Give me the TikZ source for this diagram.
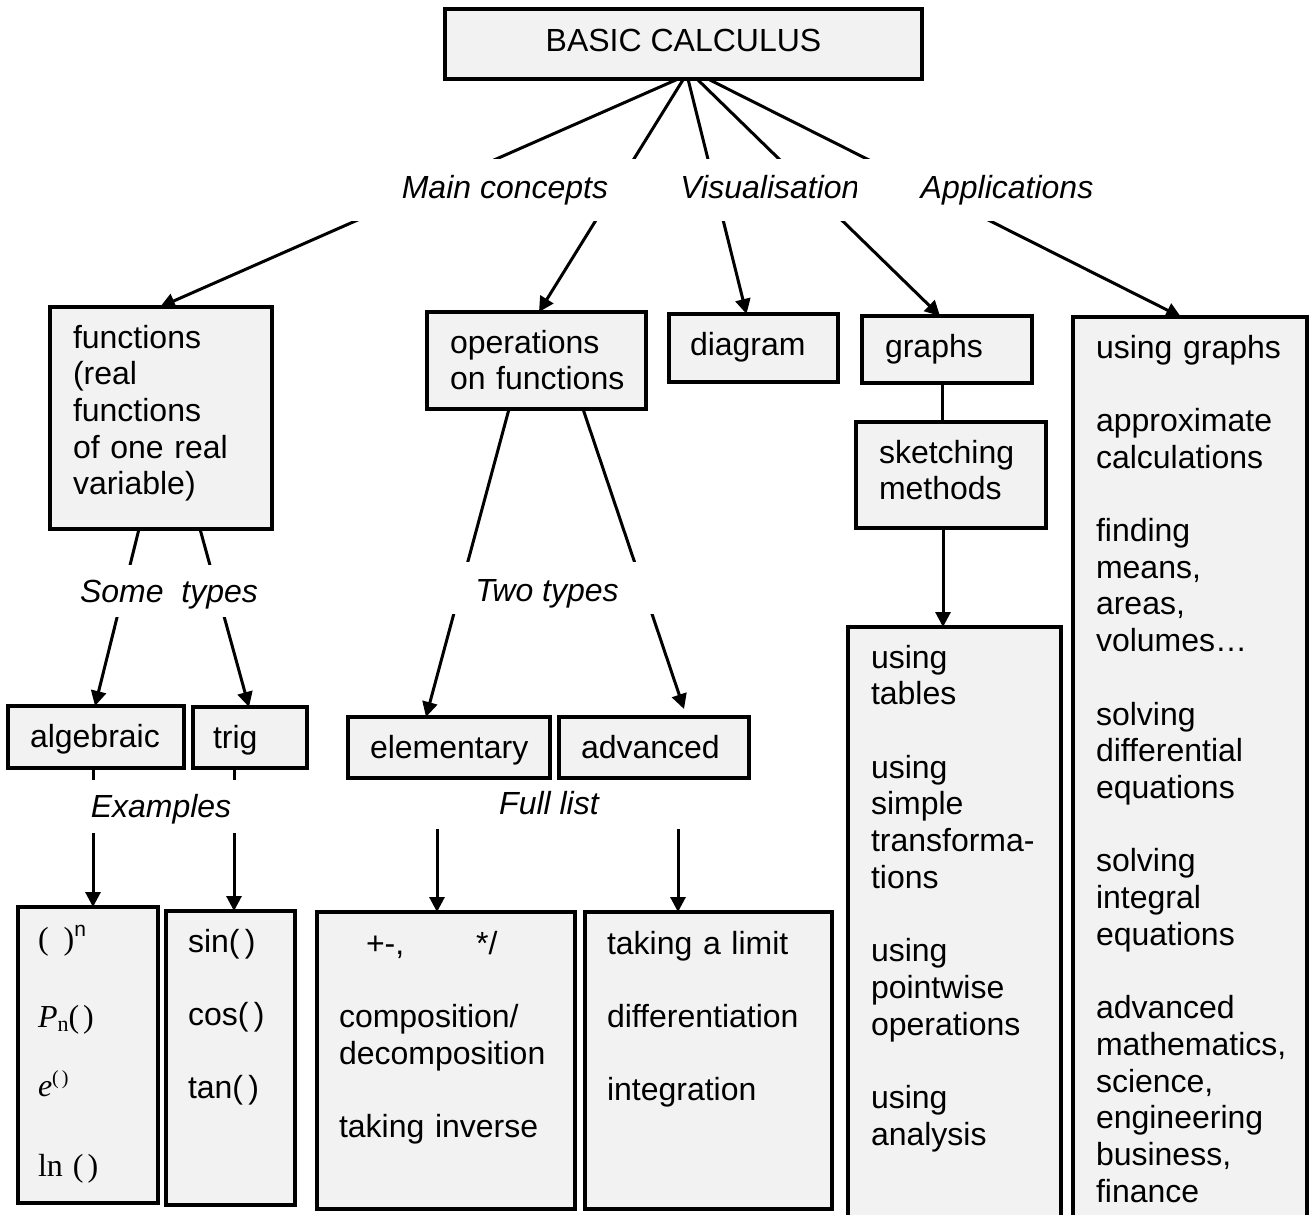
\documentclass[tikz,border=0pt]{standalone}
\usepackage{fontspec}
\setmainfont{Liberation Sans}
\newfontfamily\tnr{Liberation Serif}
\usetikzlibrary{arrows.meta}
\definecolor{boxgray}{HTML}{F2F2F2}
\begin{document}
\begin{tikzpicture}[x=1pt,y=-1pt,
  font=\fontsize{32}{36.7}\selectfont,
  box/.style={draw=black,line width=4pt,fill=boxgray,inner sep=0pt,outer sep=0pt,anchor=north west},
  conn/.style={line width=3pt},
  arr/.style={conn,-{Triangle[length=15pt,width=15pt]}},
  lbl/.style={fill=white,inner sep=0pt,outer sep=0pt,font=\fontsize{32}{36.7}\selectfont\itshape,text depth=7pt},
  txt/.style={inner sep=0pt,outer sep=0pt,anchor=base west,align=left,text width=260pt}]
\useasboundingbox (0,0) rectangle (1309,1215);
\clip (0,0) rectangle (1309,1215);
% boxes
\node[box,minimum width=477pt,minimum height=70pt] (top) at (445,9) {};
\node[box,minimum width=222pt,minimum height=222pt] (funcs) at (50,307) {};
\node[box,minimum width=219pt,minimum height=97pt] (ops) at (427,312) {};
\node[box,minimum width=169pt,minimum height=68pt] (diag) at (669,314) {};
\node[box,minimum width=170pt,minimum height=67pt] (graphs) at (862,316) {};
\node[box,minimum width=190pt,minimum height=106pt] (sketch) at (856,422) {};
\node[box,minimum width=213pt,minimum height=700pt] (tables) at (848,627) {};
\node[box,minimum width=234pt,minimum height=950pt] (apps) at (1073,317) {};
\node[box,minimum width=176pt,minimum height=62pt] (alg) at (8,706) {};
\node[box,minimum width=114pt,minimum height=61pt] (trig) at (193,707) {};
\node[box,minimum width=202pt,minimum height=61pt] (elem) at (348,717) {};
\node[box,minimum width=190pt,minimum height=61pt] (adv) at (559,717) {};
\node[box,minimum width=140pt,minimum height=296pt] (b1) at (18,907) {};
\node[box,minimum width=129pt,minimum height=294pt] (b2) at (166,911) {};
\node[box,minimum width=258pt,minimum height=297pt] (b3) at (317,912) {};
\node[box,minimum width=247pt,minimum height=297pt] (b4) at (585,912) {};
% texts
\node[inner sep=0pt,anchor=base] (topT) at ([yshift=-43pt]top.north) {BASIC CALCULUS};
\node[txt] (funcsT) at ([xshift=23pt,yshift=-41pt]funcs.north west) {functions\\(real\\functions\\of one real\\variable)};
\node[txt] (opsT) at ([xshift=23pt,yshift=-41pt]ops.north west) {operations\\on functions};
\node[txt] (diagT) at ([xshift=21pt,yshift=-41pt]diag.north west) {diagram};
\node[txt] (graphsT) at ([xshift=23pt,yshift=-41pt]graphs.north west) {graphs};
\node[txt] (sketchT) at ([xshift=23pt,yshift=-41pt]sketch.north west) {sketching\\methods};
\node[txt] (tablesT) at ([xshift=23pt,yshift=-41pt]tables.north west) {using\\tables\\[36.7pt]using\\simple\\transforma-\\tions\\[36.7pt]using\\pointwise\\operations\\[36.7pt]using\\analysis};
\node[txt] (appsT) at ([xshift=23pt,yshift=-41pt]apps.north west) {using graphs\\[36.7pt]approximate\\calculations\\[36.7pt]finding\\means,\\areas,\\volumes…\\[36.7pt]solving\\differential\\equations\\[36.7pt]solving\\integral\\equations\\[36.7pt]advanced\\mathematics,\\science,\\engineering\\business,\\finance};
\node[txt] (algT) at ([xshift=22pt,yshift=-41pt]alg.north west) {algebraic};
\node[txt] (trigT) at ([xshift=20pt,yshift=-41pt]trig.north west) {trig};
\node[txt] (elemT) at ([xshift=22pt,yshift=-41pt]elem.north west) {elementary};
\node[txt] (advT) at ([xshift=22pt,yshift=-41pt]adv.north west) {advanced};
\node[txt] (b1T) at ([xshift=20pt,yshift=-42pt]b1.north west) {{\tnr(\hspace{15pt})}\raisebox{13pt}{\fontsize{21}{21}\selectfont n}\\[41.3pt]{\tnr\itshape P}\raisebox{-4pt}{\tnr\fontsize{22}{22}\selectfont n}{\tnr(\hspace{4pt})}\\[32.3pt]{\tnr\itshape e}\raisebox{12pt}{\tnr\fontsize{20}{20}\selectfont(\hspace{3pt})}\\[43.3pt]{\tnr ln\hspace{10pt}(\hspace{4pt})}};
\node[txt] (b2T) at ([xshift=22pt,yshift=-41pt]b2.north west) {sin(\,)\\[36.7pt]cos(\,)\\[36.7pt]tan(\,)};
\node[txt] (b3T) at ([xshift=22pt,yshift=-42pt]b3.north west) {\hspace*{27pt}+-,\hspace{72pt}*/\\[36.7pt]composition/\\decomposition\\[36.7pt]taking inverse};
\node[txt] (b4T) at ([xshift=22pt,yshift=-42pt]b4.north west) {taking a limit\\[36.7pt]differentiation\\[36.7pt]integration};
% connectors
\draw[arr] ([xshift=-5.5pt]top.south) -- ([xshift=-1pt]funcs.north);
\draw[arr] (top.south) -- ([xshift=2.5pt]ops.north);
\draw[arr] ([xshift=4.5pt]top.south) -- ([xshift=-7pt]diag.north);
\draw[arr] ([xshift=13.5pt]top.south) -- ([xshift=-7pt]graphs.north);
\draw[arr] ([xshift=24.5pt]top.south) -- ([xshift=-9pt]apps.north);
\draw[arr] ([xshift=-22pt]funcs.south) -- ([xshift=-1pt]alg.north);
\draw[arr] ([xshift=39pt]funcs.south) -- ([xshift=-1pt]trig.north);
\draw[arr] ([xshift=-27.5pt]ops.south) -- ([xshift=-23pt]elem.north);
\draw[arr] ([xshift=46.5pt]ops.south) -- ([xshift=30pt,yshift=8pt]adv.north);
\draw[conn] ([xshift=-4.5pt]graphs.south) -- ([xshift=-4.5pt]graphs.south |- sketch.north);
\draw[arr] ([xshift=-8pt]sketch.south) -- ([xshift=-8pt]sketch.south |- tables.north);
\draw[arr] ([xshift=-3pt]alg.south) -- ([xshift=-3pt]alg.south |- b1.north);
\draw[arr] ([xshift=-16pt]trig.south) -- ([xshift=-16pt]trig.south |- b2.north);
% labels
\node[lbl,minimum width=340pt,minimum height=62pt,text height=23pt] (lmain) at (505,190) {Main concepts};
\node[lbl,minimum width=200pt,minimum height=62pt,text height=23pt] (lvis) at (770,190) {Visualisation};
\node[lbl,minimum width=300pt,minimum height=62pt,text height=23pt] (lapp) at (1007,190) {Applications};
\node[lbl,minimum width=190pt,minimum height=52pt,text height=29pt] (lsome) at (169,591) {Some\ \ types};
\node[lbl,minimum width=225pt,minimum height=52pt,text height=33pt] (ltwo) at (547,588) {Two types};
\node[lbl,minimum width=200pt,minimum height=53pt,text height=28pt] (lex) at (161,806.5) {Examples};
\node[lbl,minimum width=290pt,minimum height=48pt,text height=25pt] (lfull) at (549,805) {Full list};
% arrows below "Full list"
\draw[arr] ([xshift=-12pt]elem.south |- lfull.south) -- ([xshift=-12pt]elem.south |- b3.north);
\draw[arr] ([xshift=24pt]adv.south |- lfull.south) -- ([xshift=24pt]adv.south |- b4.north);
\end{tikzpicture}
\end{document}
